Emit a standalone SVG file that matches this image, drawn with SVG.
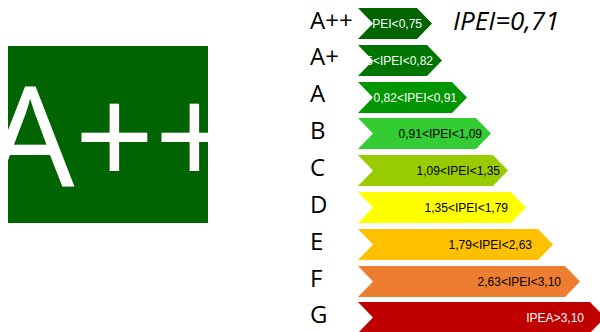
<svg xmlns="http://www.w3.org/2000/svg" width="600" height="332" viewBox="0 0 600 332">
<defs>
<clipPath id="boxclip"><rect x="8" y="46" width="200" height="177"/></clipPath>
</defs>
<style>
.lbl{font-family:"Open Sans","Liberation Sans",sans-serif;font-size:24px;fill:#000}
.rng{font-family:"Liberation Sans",Arial,sans-serif;font-size:12px;text-anchor:end}
.w{fill:#fff}
.k{fill:#000}
</style>
<rect width="600" height="332" fill="#fff"/>
<g id="badge">
<rect x="8" y="46" width="200" height="177" fill="#006400"/>
<text x="-14" y="187" clip-path="url(#boxclip)" font-family="'Open Sans','Liberation Sans',sans-serif" font-size="140" fill="#fff">A++</text>
</g>
<g id="value">
<text x="453" y="30" font-family="'Open Sans','Liberation Sans',sans-serif" font-size="26" font-style="italic" fill="#000">IPEI=0,71</text>
</g>
<g id="row-app">
<text class="lbl" x="310" y="29">A++</text>
<polygon points="358,8 417,8 432,23.5 417,39 358,39 373,23.5" fill="#006400"/>
<text class="rng w" x="422" y="28">PEI&lt;0,75</text>
</g>
<g id="row-ap">
<text class="lbl" x="310" y="65">A+</text>
<polygon points="358,45 427,45 442,60.5 427,76 358,76 373,60.5" fill="#007400"/>
<text class="rng w" x="433" y="65">0,75&lt;IPEI&lt;0,82</text>
</g>
<g id="row-a">
<text class="lbl" x="310" y="102">A</text>
<polygon points="358,82 452,82 467,97.5 452,113 358,113 373,97.5" fill="#009600"/>
<text class="rng w" x="457" y="102">0,82&lt;IPEI&lt;0,91</text>
</g>
<g id="row-b">
<text class="lbl" x="310" y="139">B</text>
<polygon points="358,118 476,118 491,133.5 476,149 358,149 373,133.5" fill="#33cc33"/>
<text class="rng k" x="482" y="138">0,91&lt;IPEI&lt;1,09</text>
</g>
<g id="row-c">
<text class="lbl" x="310" y="176">C</text>
<polygon points="358,155 493,155 508,170.5 493,186 358,186 373,170.5" fill="#99cc00"/>
<text class="rng k" x="500" y="175">1,09&lt;IPEI&lt;1,35</text>
</g>
<g id="row-d">
<text class="lbl" x="310" y="213">D</text>
<polygon points="358,192 511,192 526,207.5 511,223 358,223 373,207.5" fill="#ffff00"/>
<text class="rng k" x="508" y="212">1,35&lt;IPEI&lt;1,79</text>
</g>
<g id="row-e">
<text class="lbl" x="310" y="250">E</text>
<polygon points="358,229 538,229 553,244.5 538,260 358,260 373,244.5" fill="#ffc000"/>
<text class="rng k" x="532" y="249">1,79&lt;IPEI&lt;2,63</text>
</g>
<g id="row-f">
<text class="lbl" x="310" y="287">F</text>
<polygon points="358,266 565,266 580,281.5 565,297 358,297 373,281.5" fill="#ed7d31"/>
<text class="rng k" x="561" y="286">2,63&lt;IPEI&lt;3,10</text>
</g>
<g id="row-g">
<text class="lbl" x="310" y="323">G</text>
<polygon points="358,302 590,302 605,317.5 590,333 358,333 373,317.5" fill="#c00000"/>
<text class="rng w" x="584" y="322">IPEA&gt;3,10</text>
</g>
<g id="connectors"></g>
</svg>
